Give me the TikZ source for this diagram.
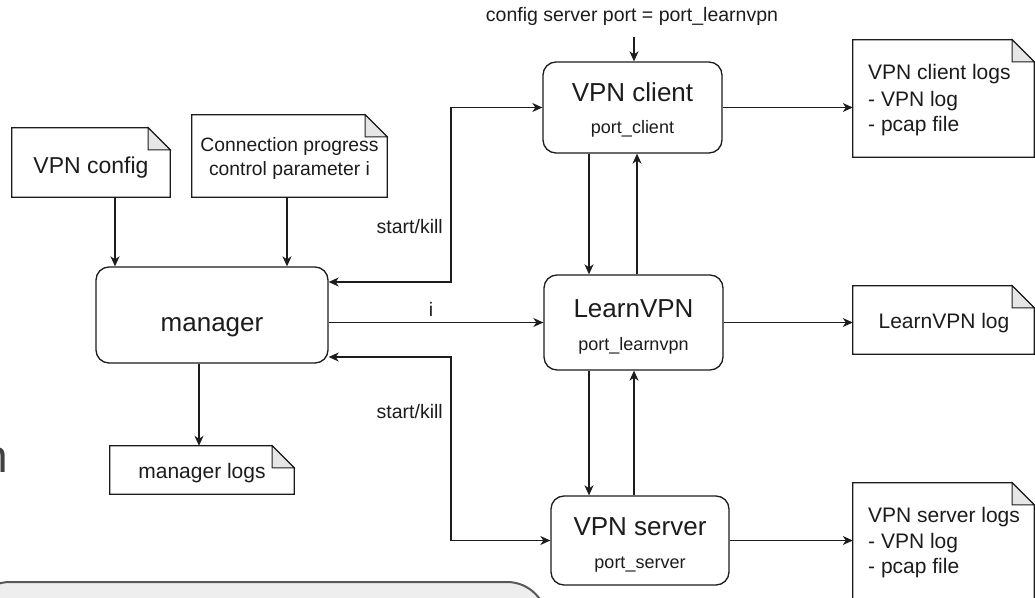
\documentclass[tikz,border=0pt]{standalone}
\usepackage{fontspec}
\setmainfont{Liberation Sans}
\usetikzlibrary{arrows.meta}

\definecolor{ink}{HTML}{1C1C1C}
\definecolor{foldfill}{HTML}{E6E6E6}
\definecolor{panelfill}{HTML}{EEEEEE}
\definecolor{panelline}{HTML}{585858}
\definecolor{glyphgray}{HTML}{404040}

% font sizes used in the diagram
\newcommand\procfont{\fontsize{26bp}{31bp}\selectfont}
\newcommand\portfont{\fontsize{18bp}{22bp}\selectfont}
\newcommand\notefont{\fontsize{21bp}{26bp}\selectfont}
\newcommand\cfgfont{\fontsize{23bp}{28bp}\selectfont}
\newcommand\smallnotefont{\fontsize{19.3bp}{24bp}\selectfont}
\newcommand\edgefont{\fontsize{19.5bp}{24bp}\selectfont}

% outline of a note with a folded top-right corner, drawn over a named node
\newcommand\drawnote[1]{%
  \draw[notepath] (#1.south west) -- (#1.north west) -- ([xshift=-22bp]#1.north east)
     -- ([yshift=-22bp]#1.north east) -- (#1.south east) -- cycle;
  \draw[foldpath] ([xshift=-22bp]#1.north east) -- ([xshift=-22bp,yshift=-22bp]#1.north east)
     -- ([yshift=-22bp]#1.north east) -- cycle;}

\tikzset{
  proc/.style={draw=ink, line width=1.3bp, rounded corners=13bp, fill=white, inner sep=0pt},
  notebox/.style={inner sep=0pt, draw=none},
  notepath/.style={draw=ink, line width=1.3bp, fill=white, line join=miter},
  foldpath/.style={draw=ink, line width=1bp, fill=foldfill, line join=miter},
  txt/.style={inner sep=0pt, text=ink},
  tip/.style={Stealth[length=10bp,width=9bp,inset=3bp]},
  arr/.style={draw=ink, line width=1.3bp, -{Stealth[length=10bp,width=9bp,inset=3bp]}},
  dblarr/.style={draw=ink, line width=1.3bp,
    {Stealth[length=10bp,width=9bp,inset=3bp]}-{Stealth[length=10bp,width=9bp,inset=3bp]}},
}

\begin{document}
\begin{tikzpicture}[x=1bp, y=-1bp]
\useasboundingbox (0,0) rectangle (1035,598);
\fill[white] (0,0) rectangle (1035,598);
\clip (0,0) rectangle (1035,598);

% grey panel along the bottom edge
\draw[fill=panelfill, draw=panelline, line width=2bp, rounded corners=40bp]
  (-30,660) -- (-30,582) -- (547,582) -- (547,660) -- cycle;

% letter of a text running off the left edge
\node[anchor=base east, inner sep=0pt, text=glyphgray, font=\fontsize{46bp}{50bp}\selectfont]
  (cutGlyph) at (8,472) {n};

% note shapes
\node[notebox, minimum width=158bp, minimum height=69bp] (cfg) at (91,162.5) {};
\node[notebox, minimum width=195bp, minimum height=82bp] (conn) at (289.5,156) {};
\node[notebox, minimum width=184bp, minimum height=48bp] (mlog) at (202,470) {};
\node[notebox, minimum width=181bp, minimum height=117bp] (clog) at (943.5,98.5) {};
\node[notebox, minimum width=181bp, minimum height=68bp] (llog) at (943.5,320) {};
\node[notebox, minimum width=181bp, minimum height=118bp] (slog) at (943.5,542) {};
\drawnote{cfg}
\drawnote{conn}
\drawnote{mlog}
\drawnote{clog}
\drawnote{llog}
\drawnote{slog}

% note texts
\node[txt, anchor=base, font=\cfgfont] (cfgT) at (91,174) {VPN config};
\node[txt, anchor=base, font=\smallnotefont] (connA) at (289.5,151.7) {Connection progress};
\node[txt, anchor=base, font=\smallnotefont] (connB) at (289.5,176) {control parameter i};
\node[txt, anchor=base, font=\notefont] (mlogT) at (202,478) {manager logs};
\node[txt, anchor=base west, font=\notefont] (clogA) at (868,80) {VPN client logs};
\node[txt, anchor=base west, font=\notefont] (clogB) at (868,106.5) {- VPN log};
\node[txt, anchor=base west, font=\notefont] (clogC) at (868,132) {- pcap file};
\node[txt, anchor=base, font=\notefont] (llogT) at (944,328) {LearnVPN log};
\node[txt, anchor=base west, font=\notefont] (slogA) at (868,522) {VPN server logs};
\node[txt, anchor=base west, font=\notefont] (slogB) at (868,548) {- VPN log};
\node[txt, anchor=base west, font=\notefont] (slogC) at (868,573) {- pcap file};

% process boxes
\node[proc, minimum width=232bp, minimum height=96bp] (mgr) at (212,315) {};
\node[proc, minimum width=179bp, minimum height=91bp] (client) at (632.5,107.5) {};
\node[proc, minimum width=179bp, minimum height=95bp] (learn) at (633.5,322.5) {};
\node[proc, minimum width=178bp, minimum height=89bp] (server) at (640,540.5) {};

\node[txt, anchor=base, font=\procfont, yshift=-16bp] (mgrT) at (mgr.center) {manager};
\node[txt, anchor=base, font=\procfont, yshift=6bp] (clientT) at (client.center) {VPN client};
\node[txt, anchor=base, font=\portfont, yshift=-26.5bp] (clientP) at (client.center) {port\_client};
\node[txt, anchor=base, font=\procfont, yshift=5.5bp] (learnT) at (learn.center) {LearnVPN};
\node[txt, anchor=base, font=\portfont, yshift=-27.5bp] (learnP) at (learn.center) {port\_learnvpn};
\node[txt, anchor=base, font=\procfont, yshift=5.5bp] (serverT) at (server.center) {VPN server};
\node[txt, anchor=base, font=\portfont, yshift=-27.5bp] (serverP) at (server.center) {port\_server};

% connector labels
\node[txt, anchor=base, font=\edgefont] (cfgLbl) at (632,21.7) {config server port = port\_learnvpn};
\node[txt, anchor=base east, font=\edgefont] (skUp) at (443,234) {start/kill};
\node[txt, anchor=base east, font=\edgefont] (skDn) at (443,418) {start/kill};
\node[txt, anchor=base, font=\edgefont] (iLbl) at (431,316) {i};

% helper points
\coordinate (bus) at (451,0);
\coordinate (cfgIn) at (634,37);

% inputs of the manager
\draw[arr] ([xshift=24bp]cfg.south) -- ([xshift=24bp]cfg.south |- mgr.north);
\draw[arr] ([xshift=-2.5bp]conn.south) -- ([xshift=-2.5bp]conn.south |- mgr.north);
\draw[arr] ([xshift=-13bp]mgr.south) -- ([xshift=-13bp]mgr.south |- mlog.north);

% manager to the three processes
\draw[dblarr] ([yshift=33bp]mgr.east) -- ([yshift=33bp]mgr.east -| bus)
  -- (bus |- client.west) -- (client.west);
\draw[arr] (mgr.east |- learn.west) -- (learn.west);
\draw[dblarr] ([yshift=-42bp]mgr.east) -- ([yshift=-42bp]mgr.east -| bus)
  -- (bus |- server.west) -- (server.west);

% traffic between client, LearnVPN and server
\draw[arr] (cfgIn) -- (cfgIn |- client.north);
\draw[arr] ([xshift=-43.5bp]client.south) -- ([xshift=-43.5bp]client.south |- learn.north);
\draw[arr] ([xshift=3.5bp]learn.north) -- ([xshift=3.5bp]learn.north |- client.south);
\draw[arr] ([xshift=-44.5bp]learn.south) -- ([xshift=-44.5bp]learn.south |- server.north);
\draw[arr] ([xshift=-6bp]server.north) -- ([xshift=-6bp]server.north |- learn.south);

% logs
\draw[arr] (client.east) -- (clog.west |- client.east);
\draw[arr] (learn.east) -- (llog.west |- learn.east);
\draw[arr] (server.east) -- (slog.west |- server.east);
\end{tikzpicture}
\end{document}
